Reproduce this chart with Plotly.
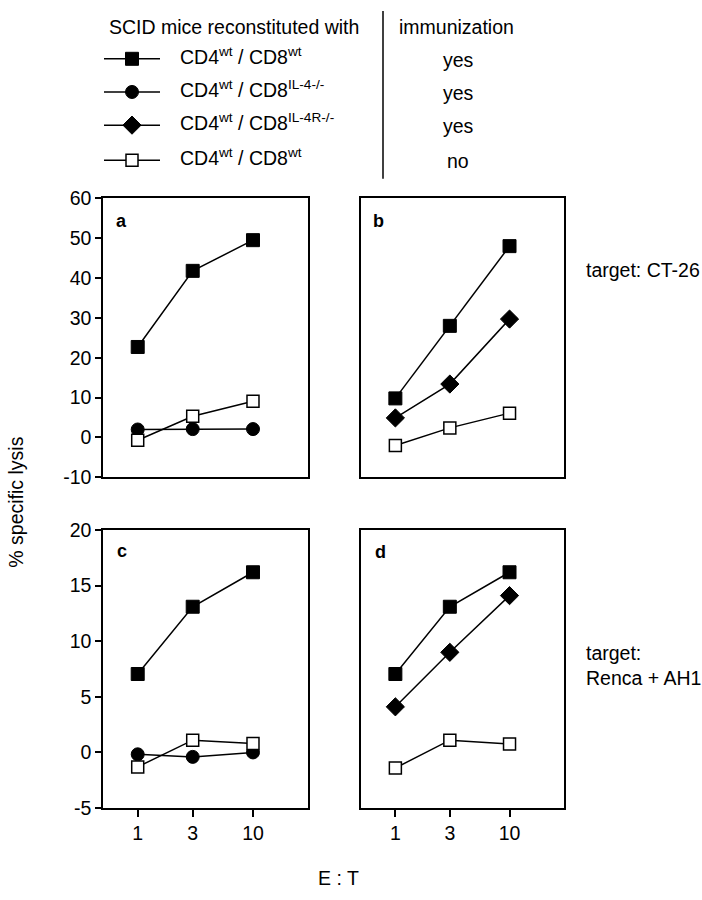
import math
import plotly.graph_objects as go

# ---------------- data ----------------
ET_RATIO = [1, 3, 10]
ET_LABELS = ["1", "3", "10"]

Y_TICKS_TOP = [-10, 0, 10, 20, 30, 40, 50, 60]
Y_LABELS_TOP = ["-10", "0", "10", "20", "30", "40", "50", "60"]
Y_TICKS_BOT = [-5, 0, 5, 10, 15, 20]
Y_LABELS_BOT = ["-5", "0", "5", "10", "15", "20"]

# panel a (target CT-26)
A_WT_IMM = [22.7, 41.8, 49.5]
A_IL4KO_IMM = [2.0, 2.1, 2.1]
A_WT_NAIVE = [-0.7, 5.3, 9.1]
# panel b (target CT-26)
B_WT_IMM = [9.8, 28.0, 48.0]
B_IL4RKO_IMM = [4.9, 13.4, 29.7]
B_WT_NAIVE = [-2.0, 2.4, 6.1]
# panel c (target Renca + AH1)
C_WT_IMM = [7.05, 13.1, 16.2]
C_IL4KO_IMM = [-0.17, -0.4, 0.0]
C_WT_NAIVE = [-1.3, 1.1, 0.8]
# panel d (target Renca + AH1)
D_WT_IMM = [7.05, 13.1, 16.2]
D_IL4RKO_IMM = [4.1, 9.0, 14.1]
D_WT_NAIVE = [-1.4, 1.1, 0.75]

SERIES_NAMES = [
    "CD4<sup>wt</sup> / CD8<sup>wt</sup>",
    "CD4<sup>wt</sup> / CD8<sup>IL-4-/-</sup>",
    "CD4<sup>wt</sup> / CD8<sup>IL-4R-/-</sup>",
    "CD4<sup>wt</sup> / CD8<sup>wt</sup>",
]
IMMUNIZATION = ["yes", "yes", "yes", "no"]

# ---------------- styles ----------------
W, H = 702, 900
FONT = "Liberation Sans, Arial, sans-serif"
FS = 19.5
STYLES = [
    dict(symbol="square", size=13, color="black", line=dict(color="black", width=1)),
    dict(symbol="circle", size=13, color="black", line=dict(color="black", width=1)),
    dict(symbol="diamond", size=14, color="black", line=dict(color="black", width=1)),
    dict(symbol="square", size=12, color="white", line=dict(color="black", width=1.5)),
]


def xd(l, r):
    return [l / W, r / W]


def yd(top, bottom):
    return [1 - bottom / H, 1 - top / H]


def px(x):
    return x / W


def py(y):
    return 1 - y / H


fig = go.Figure()

panels = [
    ("x", "y", [(0, A_WT_IMM), (1, A_IL4KO_IMM), (3, A_WT_NAIVE)]),
    ("x2", "y2", [(0, B_WT_IMM), (2, B_IL4RKO_IMM), (3, B_WT_NAIVE)]),
    ("x3", "y3", [(0, C_WT_IMM), (1, C_IL4KO_IMM), (3, C_WT_NAIVE)]),
    ("x4", "y4", [(0, D_WT_IMM), (2, D_IL4RKO_IMM), (3, D_WT_NAIVE)]),
]
for xa, ya, series in panels:
    for idx, vals in series:
        fig.add_trace(go.Scatter(
            x=ET_RATIO, y=vals, xaxis=xa, yaxis=ya, mode="lines+markers",
            line=dict(color="black", width=1.5), marker=STYLES[idx],
            showlegend=False, cliponaxis=False, hoverinfo="skip",
        ))

# legend key (drawn on a hidden pixel-mapped axis)
LEG_ROW_Y = [49, 83, 117, 153]
LEG_X0, LEG_X1 = 104, 160
for i, yrow in enumerate(LEG_ROW_Y):
    fig.add_trace(go.Scatter(
        x=[LEG_X0, LEG_X1], y=[yrow] * 2, xaxis="x5", yaxis="y5", mode="lines",
        line=dict(color="black", width=1.5), showlegend=False, cliponaxis=False, hoverinfo="skip"))
    fig.add_trace(go.Scatter(
        x=[(LEG_X0 + LEG_X1) / 2], y=[yrow], xaxis="x5", yaxis="y5", mode="markers",
        marker=STYLES[i], showlegend=False, cliponaxis=False, hoverinfo="skip"))

axis_common = dict(showline=True, mirror=True, linecolor="black", linewidth=1.5,
                   showgrid=False, zeroline=False, tickfont=dict(family=FONT, size=FS, color="black"),
                   tickcolor="black", tickwidth=1.5, ticklen=6)
xrange_log = [math.log10(0.5), math.log10(30)]

xa_top = dict(axis_common, type="log", range=xrange_log, showticklabels=False, ticks="")
xa_bot = dict(axis_common, type="log", range=xrange_log, tickvals=ET_RATIO, ticktext=ET_LABELS,
              ticks="outside", ticklen=7)

fig.update_layout(
    width=W, height=H, margin=dict(l=0, r=0, t=0, b=0),
    paper_bgcolor="white", plot_bgcolor="rgba(0,0,0,0)",
    font=dict(family=FONT, size=FS, color="black"),
    showlegend=False,
    xaxis=dict(xa_top, domain=xd(103, 308), anchor="y"),
    yaxis=dict(axis_common, domain=yd(192, 478), range=[-10, 60], tickvals=Y_TICKS_TOP,
               ticktext=Y_LABELS_TOP, ticks="outside", anchor="x"),
    xaxis2=dict(xa_top, domain=xd(361, 564), anchor="y2"),
    yaxis2=dict(axis_common, domain=yd(192, 478), range=[-10, 60], showticklabels=False, ticks="", anchor="x2"),
    xaxis3=dict(xa_bot, domain=xd(103, 308), anchor="y3"),
    yaxis3=dict(axis_common, domain=yd(532, 817), range=[-5, 20], tickvals=Y_TICKS_BOT,
                ticktext=Y_LABELS_BOT, ticks="outside", anchor="x3"),
    xaxis4=dict(xa_bot, domain=xd(361, 564), anchor="y4"),
    yaxis4=dict(axis_common, domain=yd(532, 817), range=[-5, 20], showticklabels=False, ticks="", anchor="x4"),
    xaxis5=dict(domain=[0, 380 / W], range=[0, 380], visible=False, fixedrange=True, anchor="y5"),
    yaxis5=dict(domain=[1 - 175 / H, 1], range=[175, 0], visible=False, fixedrange=True, anchor="x5"),
)

ann = []


def add_text(text, x, y, xanchor="left", yanchor="middle", size=FS, bold=False, align="left", angle=0):
    ann.append(dict(
        text=f"<b>{text}</b>" if bold else text, x=px(x), y=py(y), xref="paper", yref="paper",
        xanchor=xanchor, yanchor=yanchor, showarrow=False, align=align, textangle=angle,
        borderpad=0, font=dict(family=FONT, size=size, color="black")))


add_text("SCID mice reconstituted with", 108, 16)
add_text("immunization", 398, 16)
for name, imm, yrow in zip(SERIES_NAMES, IMMUNIZATION, LEG_ROW_Y):
    add_text(name, 179, yrow - 3)
    add_text(imm, 458, yrow + 1, xanchor="center")

add_text("a", 121, 215, xanchor="center", bold=True, size=18)
add_text("b", 378, 215, xanchor="center", bold=True, size=18)
add_text("c", 122, 554, xanchor="center", bold=True, size=18)
add_text("d", 380, 555, xanchor="center", bold=True, size=18)

add_text("target: CT-26", 585, 265)
add_text("target:<br>Renca + AH1", 585, 671)
add_text("% specific lysis", 16, 504, xanchor="center", angle=-90)
add_text("E : T", 338, 889, xanchor="center")

fig.update_layout(annotations=ann)
fig.add_shape(type="line", xref="paper", yref="paper", x0=px(383), x1=px(383), y0=py(0), y1=py(172),
              line=dict(color="black", width=1.5))

fig.write_html("out.html", config={"displayModeBar": False},
               post_script="document.body.style.margin='0';")
